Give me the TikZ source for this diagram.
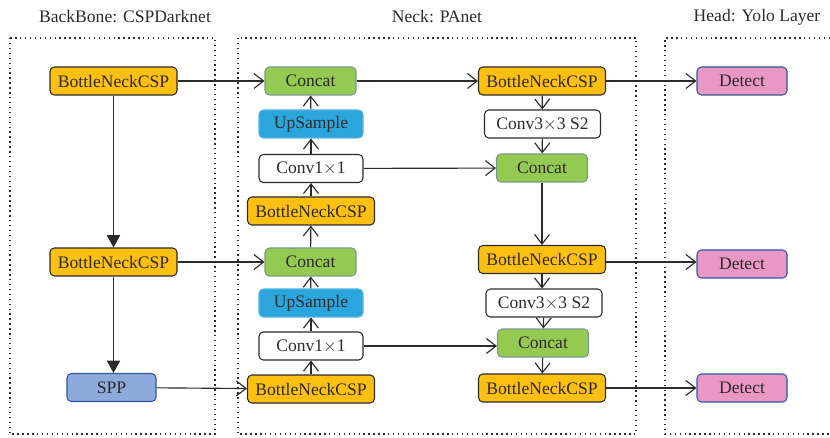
\documentclass[tikz,border=0pt]{standalone}
\usepackage{fontspec}
\setmainfont{Liberation Serif}
\usetikzlibrary{arrows.meta}

\definecolor{csporange}{RGB}{253,192,16}
\definecolor{catgreen}{RGB}{148,202,82}
\definecolor{catedge}{RGB}{122,152,146}
\definecolor{upblue}{RGB}{42,166,220}
\definecolor{upedge}{RGB}{86,182,228}
\definecolor{sppblue}{RGB}{142,169,219}
\definecolor{darkblue}{RGB}{50,88,155}
\definecolor{detpink}{RGB}{233,151,196}
\definecolor{inkgray}{RGB}{45,42,44}

\tikzset{%
  block/.style={draw=inkgray, line width=0.6pt, rounded corners=2.5pt, text=inkgray, inner sep=0pt, minimum height=28*0.02cm, font=\normalsize},
  bneck/.style={block, fill=csporange, minimum width=127*0.02cm},
  concat/.style={block, draw=catedge, fill=catgreen, minimum width=91*0.02cm},
  upsample/.style={block, draw=upedge, fill=upblue, minimum width=104*0.02cm},
  conv/.style={block, fill=white, minimum width=104*0.02cm},
  convs/.style={block, fill=white, minimum width=116*0.02cm},
  spp/.style={block, draw=darkblue, fill=sppblue, minimum width=89*0.02cm},
  detect/.style={block, draw=darkblue, fill=detpink, minimum width=90*0.02cm},
  title/.style={text=inkgray, font=\normalsize},
  line/.style={draw, line width=0.65pt, color=inkgray, -{Straight Barb[length=5.5pt,width=8.5pt]}},
  bigline/.style={draw, line width=0.65pt, color=inkgray, -{Triangle[length=7pt,width=7.5pt]}},
  group/.style={draw=inkgray, line width=0.8pt, dotted},
}

\begin{document}
\begin{tikzpicture}[x=0.02cm, y=-0.02cm]
\useasboundingbox (0,0) rectangle (830,438);

% groups
\draw[group] (10,38) rectangle (215,434);
\draw[group] (238,38) rectangle (636,434);
\draw[group] (830,38) -| (665,434) -- (830,434);
\node[title] (tback) at (125,17) {BackBone: CSPDarknet};
\node[title] (tneck) at (437,17) {Neck: PAnet};
\node[title] (thead) at (757,17) {Head: Yolo Layer};

% backbone
\node[bneck] (b1) at (113.5,81) {BottleNeckCSP};
\node[bneck] (b2) at (113.5,262) {BottleNeckCSP};
\node[spp] (spp) at (111.5,387.5) {SPP};

% neck, up path
\node[concat] (c1) at (310.5,81) {Concat};
\node[upsample] (u1) at (311,124) {UpSample};
\node[conv] (v1) at (311,168.5) {Conv1$\times$1};
\node[bneck] (n1) at (311,211) {BottleNeckCSP};
\node[concat] (c2) at (310.5,262) {Concat};
\node[upsample] (u2) at (311,303) {UpSample};
\node[conv] (v2) at (311,346) {Conv1$\times$1};
\node[bneck] (n2) at (311,389) {BottleNeckCSP};

% neck, down path
\node[bneck] (n3) at (542,81) {BottleNeckCSP};
\node[convs] (s1) at (542.5,124) {Conv3$\times$3 S2};
\node[concat] (c3) at (542,168) {Concat};
\node[bneck] (n4) at (542,259.5) {BottleNeckCSP};
\node[convs] (s2) at (544,303) {Conv3$\times$3 S2};
\node[concat] (c4) at (543,343) {Concat};
\node[bneck] (n5) at (542,388) {BottleNeckCSP};

% head
\node[detect] (d1) at (742,81) {Detect};
\node[detect] (d2) at (742,264) {Detect};
\node[detect] (d3) at (742,388) {Detect};

% connections
\path[bigline] (b1) -- (b2);
\path[bigline] (b2) -- (b2 |- spp.north);
\path[line] (b1) -- (c1);
\path[line] (b2) -- (c2);
\path[line] (spp) -- (n2);

\path[line] (n2) -- (v2);
\path[line] (v2) -- (u2);
\path[line] (u2) -- (c2);
\path[line] (c2) -- (n1);
\path[line] (n1) -- (v1);
\path[line] (v1) -- (u1);
\path[line] (u1) -- (c1);
\path[line] (c1) -- (n3);

\path[line] (n3) -- (s1);
\path[line] (s1) -- (c3);
\path[line] (c3) -- (c3 |- n4.north);
\path[line] (v1) -- (c3);
\path[line] (n4) -- (n4 |- s2.north);
\path[line] (s2) -- (c4);
\path[line] (v2.east) -- (c4.west |- v2.east);
\path[line] (c4) -- (n5);

\path[line] (n3) -- (d1);
\path[line] (n4.east |- 0,262) -- (d2.west |- 0,262);
\path[line] (n5) -- (d3);
\end{tikzpicture}
\end{document}
